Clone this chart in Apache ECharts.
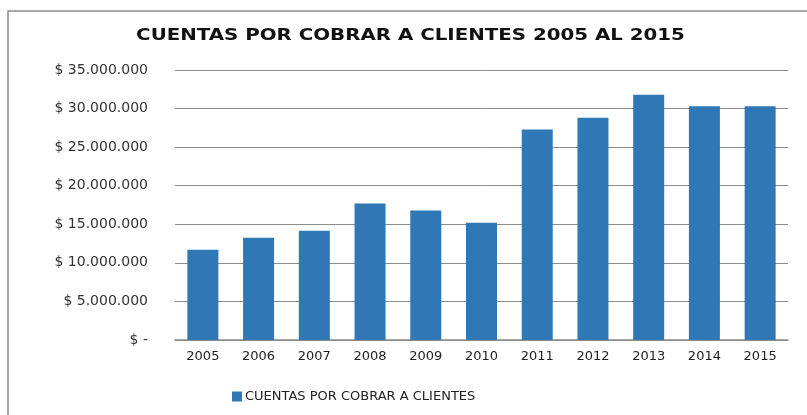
<!DOCTYPE html>
<html>
<head>
<meta charset="utf-8">
<script src="https://cdn.jsdelivr.net/npm/echarts@6/dist/echarts.min.js"></script>
<style>html,body{margin:0;padding:0;background:#fff;}#c{width:807px;height:415px;}</style>
</head>
<body>
<div id="c"></div>
<script>
const years = ['2005','2006','2007','2008','2009','2010','2011','2012','2013','2014','2015'];
const cuentas = [11700000, 13250000, 14150000, 17700000, 16800000, 15200000, 27300000, 28800000, 31800000, 30300000, 30300000];
const seriesName = 'CUENTAS POR COBRAR A CLIENTES';
const titleText = 'CUENTAS POR COBRAR A CLIENTES 2005 AL 2015';

function fmt(v){
  if (v === 0) return '$ -';
  return '$ ' + String(v).replace(/\B(?=(\d{3})+(?!\d))/g, '.');
}

const chart = echarts.init(document.getElementById('c'), null, {renderer:'canvas'});
chart.setOption({
  backgroundColor: '#fff',
  animation: false,
  graphic: [
    {type:'rect', shape:{x:8, y:11, width:830, height:430}, style:{fill:'none', stroke:'#8a8a8a', lineWidth:1.5}, z:-1},
    {type:'text', x:410.5, y:36, scaleX:1.32, originX:0, originY:0,
     style:{text:titleText, font:'bold 15px "DejaVu Sans"', fill:'#111', textAlign:'center', textVerticalAlign:'middle'}}
  ],
  legend: {
    left: 227, top: 385,
    itemWidth: 10, itemHeight: 10, itemGap: 4,
    icon: 'rect',
    textStyle: {fontFamily:'DejaVu Sans', fontSize:13, color:'#222', padding:[0,0,0,-2]},
    data: [seriesName]
  },
  grid: {left:175, right:19, top:70, bottom:75, containLabel:false},
  xAxis: {
    type:'category', data: years,
    axisLine:{lineStyle:{color:'#8c8c8c', width:1.5}},
    axisTick:{show:false},
    axisLabel:{fontFamily:'DejaVu Sans', fontSize:13, color:'#222', margin:10}
  },
  yAxis: {
    type:'value', min:0, max:35000000, interval:5000000,
    axisLine:{show:false}, axisTick:{show:false},
    splitLine:{lineStyle:{color:'#8c8c8c', width:1}},
    axisLabel:{fontFamily:'DejaVu Sans', fontSize:14, color:'#333', margin:27, formatter: fmt}
  },
  series: [{
    name: seriesName, type:'bar', data: cuentas, barWidth: 31,
    itemStyle:{color:'#2f77b5'}
  }]
});
</script>
</body>
</html>
